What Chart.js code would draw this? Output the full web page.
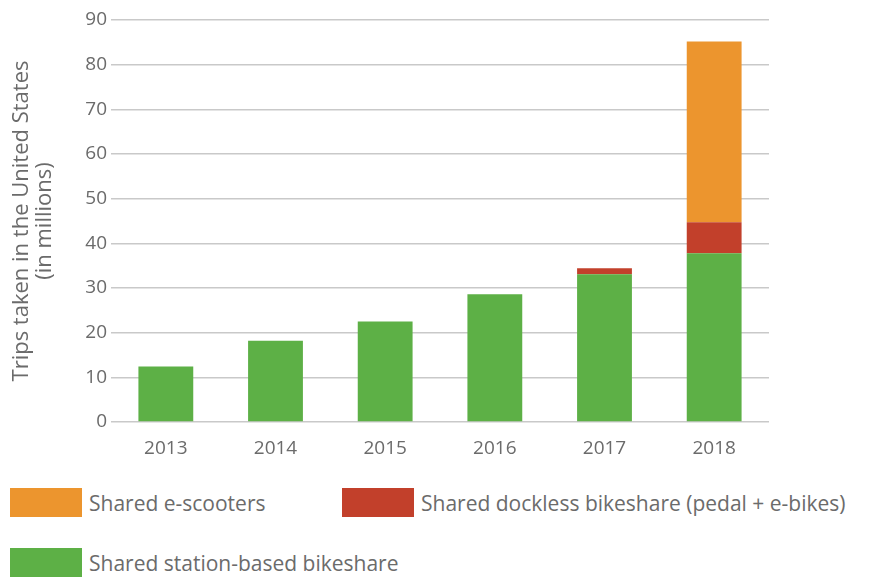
<!DOCTYPE html>
<html>
<head>
<meta charset="utf-8">
<script src="https://cdn.jsdelivr.net/npm/chart.js@4"></script>
<style>
  body { margin: 0; background: #fff; }
  #wrap { position: relative; width: 876px; height: 581px; font-family: "Open Sans", sans-serif; }
  #chartBox { position: absolute; left: 0; top: 0; width: 876px; height: 470px; }
  .legend-item { position: absolute; display: flex; align-items: center; color: #6b6b6b; font-size: 21px; white-space: nowrap; }
  .legend-item span.sw { display: inline-block; width: 72px; height: 29px; margin-right: 7px; }
</style>
</head>
<body>
<div id="wrap">
  <div id="chartBox"><canvas id="tripsChart"></canvas></div>
  <div id="legend"></div>
</div>
<script>
// data (millions of trips)
const years = ['2013', '2014', '2015', '2016', '2017', '2018'];
const stationBased = [12.4, 18.2, 22.5, 28.6, 33.1, 37.8];
const dockless = [0, 0, 0, 0, 1.3, 6.9];
const eScooters = [0, 0, 0, 0, 0, 40.5];

const textColor = '#6b6b6b';
const fontFamily = '"Open Sans", sans-serif';

const ctx = document.getElementById('tripsChart').getContext('2d');
const tripsChart = new Chart(ctx, {
    type: 'bar',
    data: {
        labels: years,
        datasets: [
            { label: 'Shared station-based bikeshare', data: stationBased, backgroundColor: '#5db046' },
            { label: 'Shared dockless bikeshare (pedal + e-bikes)', data: dockless, backgroundColor: '#c2402b' },
            { label: 'Shared e-scooters', data: eScooters, backgroundColor: '#ec952e' }
        ]
    },
    options: {
        responsive: true,
        maintainAspectRatio: false,
        animation: false,
        layout: { padding: { top: 20, right: 107, bottom: 0, left: 0 } },
        datasets: { bar: { barPercentage: 0.5, categoryPercentage: 1 } },
        plugins: { legend: { display: false }, tooltip: { enabled: false } },
        scales: {
            x: {
                stacked: true,
                grid: { display: false },
                border: { display: false },
                ticks: { color: textColor, padding: 7, font: { family: fontFamily, size: 19 } },
                afterFit: scale => { scale.height = 48; }
            },
            y: {
                stacked: true,
                min: 0,
                max: 90,
                ticks: { stepSize: 10, color: textColor, padding: 4, font: { family: fontFamily, size: 19 } },
                grid: { color: '#c9c9c9', lineWidth: 1.5, drawTicks: false },
                border: { display: false },
                title: {
                    display: true,
                    text: ['Trips taken in the United States', '(in millions)'],
                    color: textColor,
                    padding: { top: 10, bottom: 0 },
                    font: { family: fontFamily, size: 22, lineHeight: 1.05 }
                },
                afterFit: scale => { scale.width = 111; }
            }
        }
    }
});

// legend drawn as html, order and spots as in the picture
const legendSpots = [
    { ds: 2, left: 10, top: 488 },
    { ds: 1, left: 342, top: 488 },
    { ds: 0, left: 10, top: 548 }
];
const legendEl = document.getElementById('legend');
legendSpots.forEach(spot => {
    const ds = tripsChart.data.datasets[spot.ds];
    const item = document.createElement('div');
    item.className = 'legend-item';
    item.style.left = spot.left + 'px';
    item.style.top = spot.top + 'px';
    item.innerHTML = `<span class="sw" style="background:${ds.backgroundColor}"></span>${ds.label}`;
    legendEl.appendChild(item);
});
</script>
</body>
</html>
